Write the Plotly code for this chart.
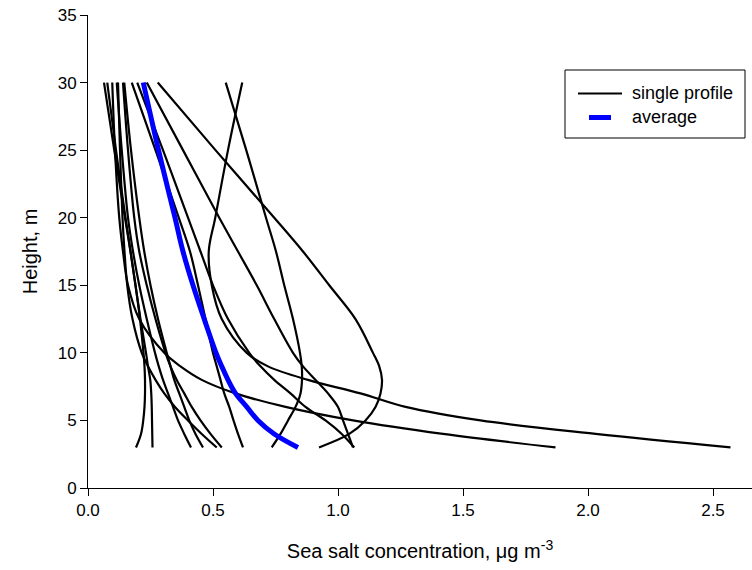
import plotly.graph_objects as go

# Heights (m) at which each concentration profile is given
heights = [3, 4, 5, 6, 7, 8, 9, 10, 12.5, 15, 17.5, 20, 25, 30]

# Single sea salt profiles (ug m-3), one value per height
profile_01 = [2.57, 2.03, 1.57, 1.27, 1.09, 0.88, 0.72, 0.635, 0.535, 0.495, 0.483, 0.509, 0.56, 0.617]
profile_02 = [0.735, 0.77, 0.80, 0.83, 0.85, 0.856, 0.855, 0.848, 0.82, 0.785, 0.752, 0.712, 0.633, 0.551]
profile_03 = [0.924, 1.045, 1.11, 1.15, 1.17, 1.176, 1.165, 1.14, 1.07, 0.965, 0.86, 0.745, 0.51, 0.279]
profile_04 = [1.06, 1.04, 1.02, 1.0, 0.96, 0.91, 0.86, 0.82, 0.745, 0.675, 0.60, 0.525, 0.38, 0.235]
profile_05 = [1.065, 1.015, 0.95, 0.87, 0.81, 0.745, 0.69, 0.645, 0.56, 0.50, 0.45, 0.40, 0.30, 0.197]
profile_06 = [1.87, 1.42, 1.06, 0.79, 0.59, 0.455, 0.37, 0.305, 0.205, 0.16, 0.14, 0.125, 0.108, 0.097]
profile_07 = [0.192, 0.212, 0.221, 0.226, 0.228, 0.228, 0.226, 0.222, 0.208, 0.19, 0.17, 0.15, 0.112, 0.077]
profile_08 = [0.258, 0.257, 0.256, 0.255, 0.253, 0.249, 0.24, 0.232, 0.21, 0.19, 0.17, 0.148, 0.105, 0.064]
profile_09 = [0.412, 0.385, 0.36, 0.34, 0.32, 0.30, 0.283, 0.268, 0.235, 0.205, 0.18, 0.16, 0.135, 0.115]
profile_10 = [0.46, 0.43, 0.405, 0.385, 0.365, 0.345, 0.33, 0.315, 0.28, 0.25, 0.225, 0.205, 0.172, 0.145]
profile_11 = [0.515, 0.455, 0.40, 0.348, 0.305, 0.27, 0.24, 0.215, 0.178, 0.157, 0.146, 0.138, 0.128, 0.12]
profile_12 = [0.535, 0.49, 0.45, 0.415, 0.385, 0.355, 0.33, 0.31, 0.27, 0.235, 0.205, 0.185, 0.16, 0.14]
profile_13 = [0.62, 0.60, 0.582, 0.565, 0.545, 0.53, 0.515, 0.50, 0.47, 0.44, 0.408, 0.363, 0.27, 0.175]

# Average profile
average_profile = [0.84, 0.745, 0.68, 0.635, 0.59, 0.56, 0.535, 0.512, 0.465, 0.42, 0.38, 0.348, 0.282, 0.221]

single_profiles = [profile_01, profile_02, profile_03, profile_04, profile_05, profile_06,
                   profile_07, profile_08, profile_09, profile_10, profile_11, profile_12,
                   profile_13]

x_ticks = [0.0, 0.5, 1.0, 1.5, 2.0, 2.5]
x_tick_text = ["0.0", "0.5", "1.0", "1.5", "2.0", "2.5"]
y_ticks = [0, 5, 10, 15, 20, 25, 30, 35]

W, H = 752, 570
L, T, B, R = 88, 15, 82, 0
FONT = "Arial, Liberation Sans, sans-serif"

fig = go.Figure()
for prof in single_profiles:
    fig.add_trace(go.Scatter(
        x=prof, y=heights, mode="lines",
        line=dict(color="black", width=2.2, shape="spline", smoothing=1.0),
        showlegend=False, hoverinfo="skip"))

fig.add_trace(go.Scatter(
    x=average_profile, y=heights, mode="lines",
    line=dict(color="#0000ff", width=5, shape="spline", smoothing=1.0),
    showlegend=False, hoverinfo="skip"))

# Legend box laid out in pixels, converted to paper coordinates
pw, ph = W - L - R, H - T - B
def px(x):
    return (x - L) / pw
def py(y):
    return (H - B - y) / ph

shapes = [
    dict(type="rect", xref="paper", yref="paper", x0=px(565), x1=px(745), y0=py(138), y1=py(70),
         line=dict(color="black", width=1), fillcolor="white", layer="above"),
    dict(type="line", xref="paper", yref="paper", x0=px(578), x1=px(622), y0=py(93.5), y1=py(93.5),
         line=dict(color="black", width=2.2), layer="above"),
    dict(type="line", xref="paper", yref="paper", x0=px(589), x1=px(611), y0=py(117.5), y1=py(117.5),
         line=dict(color="#0000ff", width=5), layer="above"),
]
annotations = [
    dict(text="single profile", xref="paper", yref="paper", x=px(630), y=py(93),
         xanchor="left", yanchor="middle", showarrow=False, font=dict(size=18, color="black", family=FONT)),
    dict(text="average", xref="paper", yref="paper", x=px(630), y=py(117),
         xanchor="left", yanchor="middle", showarrow=False, font=dict(size=18, color="black", family=FONT)),
]

fig.update_layout(
    width=W, height=H,
    margin=dict(l=L, r=R, t=T, b=B, pad=0),
    paper_bgcolor="white", plot_bgcolor="white",
    font=dict(family=FONT, color="black"),
    shapes=shapes, annotations=annotations,
    xaxis=dict(range=[0, 2.656], tickvals=x_ticks, ticktext=x_tick_text,
               showline=True, linecolor="black", linewidth=1,
               ticks="outside", ticklen=7, tickwidth=1, tickcolor="black",
               showgrid=False, zeroline=False, tickfont=dict(size=17),
               title=dict(text="Sea salt concentration, μg m<sup>-3</sup>", font=dict(size=20), standoff=24)),
    yaxis=dict(range=[0, 35], tickvals=y_ticks,
               showline=True, linecolor="black", linewidth=1,
               ticks="outside", ticklen=7, tickwidth=1, tickcolor="black",
               showgrid=False, zeroline=False, tickfont=dict(size=17),
               title=dict(text="Height, m", font=dict(size=20), standoff=14)),
)

fig.write_html("out.html")
